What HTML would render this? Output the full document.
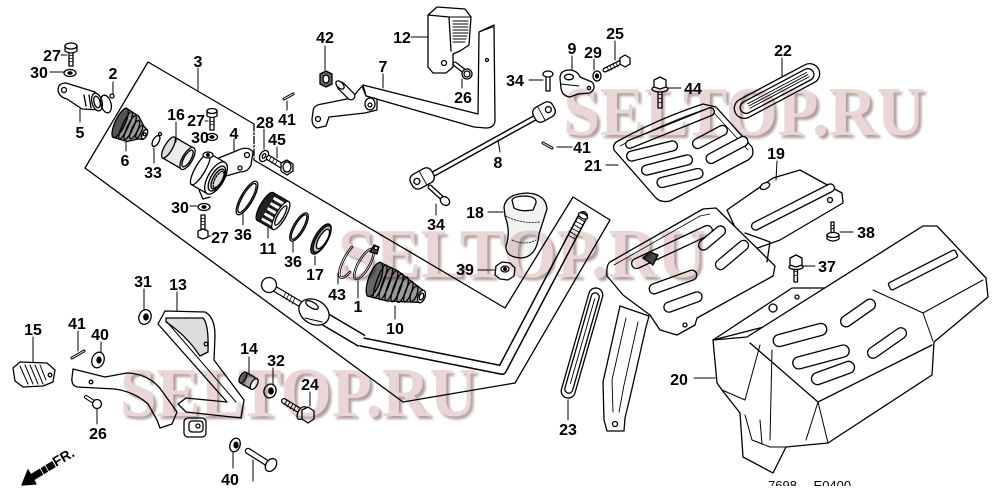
<!DOCTYPE html>
<html><head><meta charset="utf-8">
<style>
html,body{margin:0;padding:0;background:#fff;}
svg{display:block;}
.l{font-family:"Liberation Sans",Arial,sans-serif;font-weight:bold;font-size:16px;fill:#000;text-anchor:middle;stroke:none;}
.w{font-family:"Liberation Serif",serif;font-weight:bold;font-size:70px;}
</style></head><body>
<svg width="1000" height="500" viewBox="0 0 1000 500" xmlns="http://www.w3.org/2000/svg">
<defs><filter id="sh" x="-5%" y="-30%" width="110%" height="160%"><feGaussianBlur stdDeviation="1.3"/></filter></defs>
<rect width="1000" height="500" fill="#fff"/>

<g fill="#fff" stroke="#000" stroke-width="1.3" stroke-linejoin="round" stroke-linecap="round">

<!-- frame -->
<path fill="none" d="M254,124 L148,62 L85,168 L403,402 L515,383 L610,220 L573,197 L505,308 L254,160"/>
<line x1="254" y1="124" x2="254" y2="160" stroke-dasharray="7 2 1.5 2"/>
<line x1="198" y1="68" x2="198" y2="90" stroke-width="1"/>

<!-- 27 / 30 top-left -->
<rect x="69" y="51" width="4" height="15"/>
<line x1="69" y1="56" x2="73" y2="55" stroke-width="0.8"/><line x1="69" y1="59" x2="73" y2="58" stroke-width="0.8"/><line x1="69" y1="62" x2="73" y2="61" stroke-width="0.8"/>
<path d="M65,46 L65,51 Q71,55 77,51 L77,46"/><ellipse cx="71" cy="46" rx="6" ry="3"/>
<line x1="61" y1="55" x2="67" y2="55" stroke-width="1"/>
<ellipse cx="70" cy="73" rx="6" ry="3.5"/><ellipse cx="70" cy="73" rx="2" ry="1.2" fill="#000"/>
<line x1="50" y1="72" x2="63" y2="72" stroke-width="1"/>

<!-- 5 -->
<path d="M58,90 Q58,83 66,83 L95,92 L100,110 L82,109 L67,99 Q59,97 58,90 Z"/>
<circle cx="64" cy="90" r="2.5"/>
<line x1="84" y1="95" x2="86" y2="106"/><line x1="89" y1="95" x2="91" y2="108"/>
<ellipse cx="97" cy="102" rx="5" ry="9" transform="rotate(-15 97 102)"/>
<ellipse cx="97" cy="102" rx="3" ry="6" transform="rotate(-15 97 102)"/>
<line x1="80" y1="109" x2="80" y2="122" stroke-width="1"/>
<!-- 2 -->
<ellipse cx="106" cy="104" rx="5" ry="9" fill="none" transform="rotate(-15 106 104)"/>
<circle cx="112" cy="96" r="2"/>
<line x1="113" y1="82" x2="113" y2="94" stroke-width="1"/>

<!-- 6 boot -->
<g transform="rotate(25 131 128)">
<path d="M118,112 L133,114 L142,121 L147,123 L147,133 L142,135 L133,142 L118,144 Z" fill="#999"/>
<ellipse cx="119" cy="128" rx="5" ry="16" fill="#555"/>
<ellipse cx="125" cy="128" rx="3" ry="15" fill="none"/>
<ellipse cx="130" cy="128" rx="3" ry="13" fill="none"/>
<ellipse cx="135" cy="128" rx="3" ry="10" fill="none"/>
<ellipse cx="140" cy="128" rx="2" ry="7" fill="none"/>
<ellipse cx="146" cy="128" rx="2.5" ry="5"/>
<circle cx="146" cy="128" r="1.5"/>
</g>
<line x1="126" y1="142" x2="126" y2="151" stroke-width="1"/>

<!-- 33 -->
<ellipse cx="156" cy="141" rx="3" ry="6" fill="none" transform="rotate(30 156 141)"/>
<circle cx="160" cy="134" r="1.5"/>
<line x1="154" y1="148" x2="154" y2="163" stroke-width="1"/>

<!-- 16 -->
<g transform="rotate(30 178 153)">
<rect x="167" y="141" width="22" height="24" fill="#ececec"/>
<ellipse cx="167" cy="153" rx="4" ry="12" fill="#ddd"/>
<ellipse cx="189" cy="153" rx="5" ry="12.5"/>
<ellipse cx="189" cy="153" rx="3.5" ry="9.5" fill="#eee"/>
</g>
<line x1="176" y1="122" x2="176" y2="142" stroke-width="1"/>

<!-- 27 / 30 mid -->
<rect x="210" y="116" width="4" height="14"/>
<line x1="210" y1="122" x2="214" y2="121" stroke-width="0.8"/><line x1="210" y1="125" x2="214" y2="124" stroke-width="0.8"/>
<path d="M207,111 L207,116 Q212,119 217,116 L217,111"/><ellipse cx="212" cy="111" rx="5" ry="2.5"/>
<line x1="205" y1="121" x2="208" y2="121" stroke-width="1"/>
<ellipse cx="212" cy="137" rx="5.5" ry="3.5"/><ellipse cx="212" cy="137" rx="2" ry="1.2" fill="#000"/>

<!-- 4 housing -->
<path d="M214,160 L236,151 Q248,145 253,152 L251,165 Q248,172 240,172 L226,176 Z"/>
<circle cx="247" cy="155" r="2.5"/><circle cx="240" cy="168" r="2"/>
<g transform="rotate(30 216 178)">
<rect x="198" y="160" width="18" height="36"/>
<ellipse cx="198" cy="178" rx="5" ry="18"/>
<ellipse cx="216" cy="178" rx="8" ry="18"/>
<ellipse cx="217" cy="178" rx="6" ry="14" fill="#ddd"/>
<ellipse cx="218" cy="178" rx="4.5" ry="11" fill="none"/>
<ellipse cx="219" cy="178" rx="3.5" ry="9" fill="none" stroke-dasharray="2 1.5"/>
</g>
<ellipse cx="208" cy="155" rx="5" ry="3"/><circle cx="208" cy="155" r="1.3" fill="#000"/>
<path d="M199,190 L203,199 L210,197" fill="none"/>
<line x1="234" y1="139" x2="234" y2="151" stroke-width="1"/>

<!-- 28, 45, 41 -->
<ellipse cx="264" cy="156" rx="4" ry="6" transform="rotate(30 264 156)"/>
<ellipse cx="264" cy="156" rx="1.5" ry="2.5" transform="rotate(30 264 156)"/>
<line x1="264" y1="129" x2="264" y2="149" stroke-width="1"/>
<line x1="269" y1="158" x2="282" y2="166" stroke-width="6"/><line x1="269" y1="158" x2="282" y2="166" stroke-width="3.5" stroke="#fff"/>
<line x1="271" y1="157" x2="269" y2="161" stroke-width="0.8"/><line x1="274" y1="159" x2="272" y2="163" stroke-width="0.8"/><line x1="277" y1="161" x2="275" y2="165" stroke-width="0.8"/>
<path d="M281,163 L287,160 L293,164 L293,171 L287,175 L281,171 Z"/>
<ellipse cx="287" cy="167" rx="4" ry="5" fill="none"/>
<line x1="277" y1="147" x2="277" y2="158" stroke-width="1"/>
<line x1="284" y1="99" x2="293" y2="94" stroke-width="3"/><line x1="284" y1="99" x2="293" y2="94" stroke-width="1" stroke="#fff"/>
<line x1="287" y1="101" x2="287" y2="110" stroke-width="1"/>

<!-- 30 / 27 lower -->
<ellipse cx="204" cy="207" rx="6" ry="3.5"/><ellipse cx="204" cy="207" rx="2" ry="1.2" fill="#000"/>
<line x1="190" y1="206" x2="197" y2="206" stroke-width="1"/>
<rect x="201" y="215" width="4" height="16"/>
<line x1="201" y1="219" x2="205" y2="218" stroke-width="0.8"/><line x1="201" y1="222" x2="205" y2="221" stroke-width="0.8"/><line x1="201" y1="225" x2="205" y2="224" stroke-width="0.8"/>
<path d="M198,231 L203,229 L208,231 L208,237 L203,239 L198,237 Z"/>
<line x1="208" y1="236" x2="211" y2="236" stroke-width="1"/>

<!-- 36 a -->
<ellipse cx="247" cy="198" rx="6" ry="19" fill="none" transform="rotate(30 247 198)"/>
<ellipse cx="247" cy="198" rx="4.5" ry="16.5" fill="none" transform="rotate(30 247 198)"/>
<line x1="243" y1="214" x2="243" y2="225" stroke-width="1"/>

<!-- 11 -->
<g transform="rotate(30 273 211)">
<rect x="264" y="195" width="18" height="32" fill="#222"/>
<ellipse cx="264" cy="211" rx="5" ry="16" fill="#222"/>
<rect x="267" y="198" width="12" height="3" fill="#fff" stroke="none"/>
<rect x="267" y="204" width="12" height="3" fill="#fff" stroke="none"/>
<rect x="267" y="210" width="12" height="3" fill="#fff" stroke="none"/>
<rect x="267" y="216" width="12" height="3" fill="#fff" stroke="none"/>
<rect x="267" y="222" width="12" height="2.5" fill="#fff" stroke="none"/>
<ellipse cx="282" cy="211" rx="5" ry="16"/>
<ellipse cx="282" cy="211" rx="3" ry="11" fill="none"/>
</g>
<line x1="268" y1="227" x2="268" y2="238" stroke-width="1"/>

<!-- 36 b -->
<ellipse cx="299" cy="227" rx="5.5" ry="16" fill="none" transform="rotate(30 299 227)"/>
<ellipse cx="299" cy="227" rx="4" ry="14" fill="none" transform="rotate(30 299 227)"/>
<line x1="293" y1="242" x2="293" y2="252" stroke-width="1"/>

<!-- 17 -->
<ellipse cx="321" cy="239" rx="6.5" ry="17" fill="#444" transform="rotate(30 321 239)"/>
<ellipse cx="322" cy="239" rx="5.5" ry="15" fill="#bbb" transform="rotate(30 322 239)"/>
<ellipse cx="323" cy="239" rx="4" ry="11" fill="#fff" transform="rotate(30 323 239)"/>
<line x1="315" y1="256" x2="315" y2="265" stroke-width="1"/>

<!-- 43 -->
<path d="M352,247 A5,16 30 1 0 350,272" fill="none" stroke-width="2.6"/>
<path d="M352,247 A5,16 30 1 0 350,272" fill="none" stroke-width="0.9" stroke="#fff"/>
<line x1="338" y1="273" x2="338" y2="284" stroke-width="1"/>

<!-- 1 -->
<ellipse cx="364" cy="264" rx="5.5" ry="17" fill="none" stroke-width="2.4" transform="rotate(30 364 264)"/>
<ellipse cx="364" cy="264" rx="5.5" ry="17" fill="none" stroke-width="0.8" stroke="#fff" transform="rotate(30 364 264)"/>
<path d="M370,252 L374,245 L379,247 L377,254 Z" fill="#444"/>
<circle cx="376" cy="248" r="1.8" fill="#fff"/>
<line x1="358" y1="281" x2="358" y2="298" stroke-width="1"/>

<!-- 10 boot -->
<g transform="rotate(20 398 288)">
<path d="M372,270 L392,272 L411,278 L424,282 L424,294 L411,298 L392,304 L372,306 Z" fill="#9a9a9a"/>
<ellipse cx="373" cy="288" rx="6" ry="18" fill="#666"/>
<ellipse cx="379" cy="288" rx="3.5" ry="17.5" fill="none"/>
<ellipse cx="385" cy="288" rx="3.5" ry="17" fill="none"/>
<ellipse cx="391" cy="288" rx="3.5" ry="16" fill="none"/>
<ellipse cx="397" cy="288" rx="3.5" ry="15" fill="none"/>
<ellipse cx="403" cy="288" rx="3.5" ry="13.5" fill="none"/>
<ellipse cx="409" cy="288" rx="3" ry="11" fill="none"/>
<ellipse cx="415" cy="288" rx="3" ry="8" fill="none"/>
<ellipse cx="423" cy="288" rx="3.5" ry="6.5"/>
<ellipse cx="423" cy="288" rx="2" ry="3.5" fill="#fff"/>
</g>
<line x1="395" y1="306" x2="395" y2="319" stroke-width="1"/>

<!-- lever rod -->
<path fill="none" stroke-width="10" d="M330,322 L362,342 L502,370 L583,216"/>
<path fill="none" stroke-width="7" stroke="#fff" d="M330,322 L362,342 L502,370 L583,216"/>
<g stroke-width="0.9">
<line x1="577" y1="217" x2="585" y2="222"/><line x1="575" y1="221" x2="583" y2="225"/><line x1="573" y1="224" x2="581" y2="229"/><line x1="571" y1="228" x2="579" y2="232"/><line x1="569" y1="231" x2="577" y2="236"/><line x1="568" y1="235" x2="575" y2="239"/>
</g>
<ellipse cx="583" cy="216" rx="5" ry="2.5" transform="rotate(28 583 216)"/>
<line x1="318" y1="315" x2="362" y2="341" stroke-width="14" stroke-linecap="butt"/>
<line x1="318" y1="315" x2="362" y2="341" stroke-width="11" stroke="#fff" stroke-linecap="butt"/>
<line x1="275" y1="289" x2="302" y2="305" stroke-width="6.5"/>
<line x1="275" y1="289" x2="302" y2="305" stroke-width="4" stroke="#fff"/>
<g stroke-width="0.8"><line x1="286" y1="292" x2="283" y2="298"/><line x1="289" y1="294" x2="286" y2="300"/><line x1="292" y1="296" x2="289" y2="302"/><line x1="295" y1="298" x2="292" y2="304"/></g>
<circle cx="269" cy="285" r="7.5"/>
<ellipse cx="314" cy="312" rx="16" ry="12" transform="rotate(30 314 312)"/>
<ellipse cx="312" cy="305" rx="7" ry="3" transform="rotate(30 312 305)"/>
<line x1="305" y1="318" x2="322" y2="322" stroke-width="0.9"/>

<!-- 42 -->
<path d="M320,74 L326,71 L332,74 L332,84 L326,87 L320,84 Z" fill="#666"/>
<ellipse cx="326" cy="79" rx="3" ry="4" fill="#fff"/>
<line x1="325" y1="46" x2="325" y2="70" stroke-width="1"/>

<!-- 7 -->
<path d="M363,85 L478,114 L479,32 L494,25 L495,121 Q494,128 486,128 L474,127 L366,96 Z"/>
<line x1="479" y1="32" x2="493" y2="27" stroke-width="0.9"/>
<circle cx="487" cy="60" r="1.5"/>
<path d="M313,112 Q313,105 322,104 L352,98 L362,86 L366,96 L377,99 L377,110 L365,113 L329,117 L326,126 L317,128 Q312,126 312,119 Z"/>
<circle cx="318" cy="119" r="2.5"/>
<ellipse cx="370" cy="104" rx="5" ry="6"/><circle cx="370" cy="105" r="2"/>
<line x1="341" y1="86" x2="351" y2="96" stroke-width="9"/>
<line x1="341" y1="86" x2="351" y2="96" stroke-width="6.5" stroke="#fff"/>
<ellipse cx="340" cy="85" rx="5" ry="3" transform="rotate(45 340 85)"/>
<line x1="383" y1="74" x2="383" y2="88" stroke-width="1"/>

<!-- 12 -->
<path d="M428,15 L437,7 L465,9 L471,17 L469,45 L460,51 L453,54 L453,67 L446,73 L433,73 L428,67 Z"/>
<path d="M428,15 L449,17 L451,51" fill="none"/>
<line x1="449" y1="17" x2="470" y2="17" stroke-width="0.9"/>
<g stroke-width="1.1"><line x1="453" y1="21" x2="468" y2="21"/><line x1="453" y1="24" x2="468" y2="24"/><line x1="453" y1="27" x2="468" y2="27"/><line x1="453" y1="30" x2="468" y2="30"/><line x1="453" y1="33" x2="468" y2="33"/><line x1="453" y1="36" x2="467" y2="36"/><line x1="453" y1="39" x2="466" y2="39"/><line x1="453" y1="42" x2="465" y2="42"/></g>
<circle cx="444" cy="63" r="2.5"/>
<line x1="411" y1="37" x2="428" y2="37" stroke-width="1"/>

<!-- 26 top -->
<line x1="455" y1="64" x2="464" y2="71" stroke-width="5"/>
<line x1="455" y1="64" x2="464" y2="71" stroke-width="2.5" stroke="#fff"/>
<ellipse cx="467" cy="74" rx="5" ry="5"/><ellipse cx="467" cy="74" rx="3" ry="3" fill="none"/>
<line x1="462" y1="79" x2="462" y2="88" stroke-width="1"/>

<!-- 34 top -->
<rect x="546" y="75" width="4" height="16"/>
<ellipse cx="548" cy="74" rx="5" ry="3"/>
<line x1="529" y1="80" x2="543" y2="80" stroke-width="1"/>

<!-- 9 -->
<path d="M560,78 Q560,70 570,70 Q578,71 580,77 L592,82 Q597,88 590,93 L578,94 L570,97 Q562,96 561,88 Z"/>
<ellipse cx="569" cy="77" rx="4.5" ry="2.8"/>
<circle cx="589" cy="88" r="1.6"/>
<line x1="561" y1="84" x2="579" y2="86" stroke-width="0.9"/>
<line x1="572" y1="56" x2="572" y2="70" stroke-width="1"/>
<!-- 29 -->
<ellipse cx="597" cy="76" rx="4" ry="5"/><ellipse cx="597" cy="76" rx="1.5" ry="2" fill="#000"/>
<line x1="594" y1="59" x2="594" y2="70" stroke-width="1"/>
<!-- 25 -->
<line x1="605" y1="70" x2="621" y2="62" stroke-width="5"/>
<line x1="605" y1="70" x2="621" y2="62" stroke-width="2.5" stroke="#fff"/>
<g stroke-width="0.8"><line x1="607" y1="67" x2="609" y2="71"/><line x1="610" y1="66" x2="612" y2="70"/><line x1="613" y1="64" x2="615" y2="68"/><line x1="616" y1="63" x2="618" y2="67"/></g>
<path d="M620,58 L625,55 L630,58 L630,64 L625,67 L620,64 Z"/>
<line x1="615" y1="41" x2="615" y2="60" stroke-width="1"/>

<!-- 8 -->
<line x1="428" y1="177" x2="540" y2="115" stroke-width="6"/>
<line x1="428" y1="177" x2="540" y2="115" stroke-width="3.2" stroke="#fff"/>
<g transform="rotate(-29 423 178)">
<rect x="410" y="170" width="24" height="16" rx="6"/>
<line x1="423" y1="170" x2="423" y2="186" stroke-width="0.9"/>
<circle cx="416" cy="178" r="3"/>
</g>
<g transform="rotate(-29 544 112)">
<rect x="533" y="104" width="22" height="16" rx="6"/>
<line x1="541" y1="104" x2="541" y2="120" stroke-width="0.9"/>
<circle cx="549" cy="112" r="3"/>
</g>
<line x1="498" y1="140" x2="500" y2="152" stroke-width="1"/>
<!-- 34 lower -->
<line x1="430" y1="187" x2="442" y2="198" stroke-width="5"/>
<line x1="430" y1="187" x2="442" y2="198" stroke-width="2.5" stroke="#fff"/>
<ellipse cx="445" cy="201" rx="5" ry="4" transform="rotate(40 445 201)"/>
<line x1="436" y1="204" x2="436" y2="215" stroke-width="1"/>
<!-- 41 right -->
<line x1="543" y1="143" x2="552" y2="148" stroke-width="3"/>
<line x1="543" y1="143" x2="552" y2="148" stroke-width="1" stroke="#fff"/>
<line x1="557" y1="147" x2="572" y2="147" stroke-width="1"/>

<!-- 18 knob -->
<path d="M504,207 Q506,194 527,193 Q546,194 547,209 L539,234 Q537,257 521,258 Q505,257 506,246 Q511,232 505,216 Z" fill="#f2f2f2"/>
<path d="M512,200 Q514,196 526,196 Q537,197 536,203 L533,210 Q520,212 514,208 Z"/>
<path d="M506,216 Q520,224 540,222" fill="none" stroke-width="0.8" stroke-dasharray="1.5 1.5"/>
<path d="M512,240 Q525,246 536,240" fill="none" stroke-width="0.8" stroke-dasharray="1.5 1.5"/>
<line x1="488" y1="212" x2="503" y2="212" stroke-width="1"/>
<!-- 39 -->
<path d="M496,266 L502,262 L510,263 L515,268 L514,276 L508,280 L500,279 L495,275 Z"/>
<ellipse cx="505" cy="269" rx="4" ry="3"/><circle cx="505" cy="269" r="1.3" fill="#000"/>
<line x1="478" y1="270" x2="495" y2="270" stroke-width="1"/>

<!-- 44 -->
<rect x="658" y="90" width="4" height="18"/>
<g stroke-width="0.8"><line x1="658" y1="95" x2="662" y2="94"/><line x1="658" y1="99" x2="662" y2="98"/><line x1="658" y1="103" x2="662" y2="102"/></g>
<ellipse cx="660" cy="89" rx="8" ry="3"/>
<path d="M654,80 L660,77 L666,80 L666,87 L660,89 L654,87 Z"/>
<line x1="668" y1="88" x2="681" y2="88" stroke-width="1"/>

<!-- 22 -->
<g transform="rotate(-28 777 91)">
<rect x="730" y="81" width="94" height="20" rx="10"/>
<rect x="736" y="85" width="82" height="12" rx="6"/>
<line x1="745" y1="88.5" x2="812" y2="88.5" stroke-width="0.9"/>
<line x1="745" y1="91" x2="812" y2="91" stroke-width="0.9"/>
<line x1="745" y1="93.5" x2="812" y2="93.5" stroke-width="0.9"/>
</g>
<line x1="782" y1="58" x2="782" y2="76" stroke-width="1"/>

<!-- 21 -->
<path d="M614,150 Q612,143 620,140 Q660,118 703,104 L716,107 L752,147 Q755,156 748,160 L670,201 Q661,203 656,198 Z"/>
<path d="M620,146 Q660,125 703,110 L714,113 L748,150" fill="none" stroke-width="0.8"/>
<rect x="622.5" y="124" width="95" height="8" rx="4" transform="rotate(-22 670 128)"/>
<rect x="626" y="146" width="52" height="10" rx="5" transform="rotate(-14 652 151)"/>
<rect x="641" y="160" width="52" height="10" rx="5" transform="rotate(-14 667 165)"/>
<rect x="656.5" y="173" width="47" height="10" rx="5" transform="rotate(-14 680 178)"/>
<rect x="691" y="132" width="38" height="10" rx="5" transform="rotate(-28 710 137)"/>
<rect x="704" y="145" width="46" height="10" rx="5" transform="rotate(-28 727 150)"/>
<line x1="606" y1="165" x2="618" y2="165" stroke-width="1"/>

<!-- 19 -->
<path d="M727,210 L773,178 L800,170 L842,193 L843,203 L780,240 L752,250 L740,238 Z"/>
<rect x="747" y="203" width="92" height="8" rx="4" transform="rotate(-27 793 207)"/>
<ellipse cx="765" cy="186" rx="5" ry="3" transform="rotate(-27 765 186)"/>
<circle cx="830" cy="200" r="2.5"/>
<line x1="777" y1="161" x2="776" y2="180" stroke-width="1"/>

<!-- tray -->
<path d="M610,262 Q606,265 607,276 L623,295 L650,315 L660,330 L677,335 L695,325 L697,318 L773,276 L775,266 L716,208 L703,209 Z"/>
<path d="M614,265 L700,216 L710,214" fill="none" stroke-width="0.8"/>
<path d="M745,233 L770,242 L767,262" fill="none"/>
<rect x="628" y="242" width="88" height="10" rx="5" transform="rotate(-25 672 247)"/>
<path d="M643,258 L650,252 L658,255 L653,265 Z" fill="#444"/>
<rect x="696" y="233" width="32" height="10" rx="5" transform="rotate(-40 712 238)"/>
<rect x="712" y="250" width="40" height="10" rx="5" transform="rotate(-40 732 255)"/>
<rect x="648" y="277" width="50" height="10" rx="5" transform="rotate(-20 673 282)"/>
<rect x="663" y="297" width="40" height="10" rx="5" transform="rotate(-20 683 302)"/>
<circle cx="685" cy="325" r="2"/>
<!-- leg -->
<path d="M620,306 L649,316 L646,327 L631,393 L625,418 L624,431 L607,431 L604,420 L603,382 Z"/>
<path d="M626,318 L612,380 L613,412" fill="none" stroke-width="0.9"/>
<path d="M638,322 L624,385 L619,412" fill="none" stroke-width="0.9"/>
<circle cx="615" cy="424" r="2.5"/>

<!-- 23 -->
<g transform="rotate(-74 582 343)">
<rect x="525" y="336" width="114" height="14" rx="7"/>
<rect x="530" y="339" width="104" height="8" rx="4"/>
<line x1="540" y1="343" x2="628" y2="343" stroke-width="0.9"/>
</g>
<line x1="568" y1="400" x2="568" y2="420" stroke-width="1"/>

<!-- 38, 37 -->
<rect x="831" y="222" width="3" height="12"/>
<g stroke-width="0.8"><line x1="831" y1="226" x2="834" y2="225"/><line x1="831" y1="229" x2="834" y2="228"/></g>
<path d="M827,235 L827,239 Q833,243 839,239 L839,235"/><ellipse cx="833" cy="235" rx="6" ry="2.5"/>
<line x1="840" y1="232" x2="853" y2="232" stroke-width="1"/>
<rect x="794" y="267" width="3.5" height="15"/>
<g stroke-width="0.8"><line x1="794" y1="272" x2="797" y2="271"/><line x1="794" y1="276" x2="797" y2="275"/></g>
<ellipse cx="796" cy="267" rx="7" ry="2.5"/>
<path d="M790,258 L796,255 L802,258 L802,265 L796,267 L790,265 Z"/>
<line x1="803" y1="266" x2="815" y2="266" stroke-width="1"/>

<!-- 20 cover -->
<path d="M713,340 L792,288 L830,288 L830,310 Z"/>
<circle cx="773" cy="308" r="4"/><circle cx="797" cy="297" r="2"/>
<path d="M713,340 L747,337 L923,226 L937,226 L986,278 L988,297 L934,342 L932,375 L828,443 L786,447 L773,473 L743,457 L740,413 L722,390 L717,383 Z"/>
<path d="M750,343 L818,402 L932,345" fill="none"/>
<path d="M722,390 L745,400 L760,345" fill="none" stroke-width="1"/>
<path d="M745,415 L752,440 L770,447 L786,447" fill="none" stroke-width="1"/>
<path d="M760,420 L762,444 M772,350 L770,440" fill="none" stroke-width="1"/>
<path d="M818,402 L806,440 M818,402 L828,443" fill="none" stroke-width="1"/>
<path d="M873,290 L923,313 L933,341 M923,313 L983,280" fill="none" stroke-width="1"/>
<rect x="885.5" y="266" width="75" height="8" rx="2" transform="rotate(-27 923 270)"/>
<rect x="772.5" y="329" width="55" height="12" rx="6" transform="rotate(-15 800 335)"/>
<rect x="792" y="351" width="58" height="12" rx="6" transform="rotate(-15 821 357)"/>
<rect x="810.5" y="367" width="45" height="12" rx="6" transform="rotate(-20 833 373)"/>
<rect x="838" y="307.5" width="40" height="11" rx="5.5" transform="rotate(-35 858 313)"/>
<rect x="864.5" y="337.5" width="45" height="11" rx="5.5" transform="rotate(-35 887 343)"/>
<line x1="694" y1="378" x2="715" y2="378" stroke-width="1"/>

<!-- 13 bracket -->
<path d="M73,369 L105,377 L127,373 Q150,374 162,391 L177,412 L172,424 L160,428 L157,420 L148,404 Q135,392 115,389 L77,387 Q71,385 72,378 Z"/>
<circle cx="91" cy="382" r="1.8"/>
<path d="M158,324 L165,311 L205,312 Q215,317 215,336 L214,360 L244,400 L241,418 L186,412 L178,404 L186,398 L227,402 Z"/>
<path d="M166,318 L203,318 Q209,324 208,352 L200,356 Q186,335 166,322 Z" fill="#ddd"/>
<path d="M167,322 L236,402" fill="none" stroke-width="1"/>
<circle cx="206" cy="344" r="1.8"/>
<rect x="184" y="418" width="22" height="19" rx="4"/>
<rect x="189" y="421" width="14" height="11" rx="3"/>
<circle cx="198" cy="426" r="2"/>
<line x1="177" y1="292" x2="177" y2="311" stroke-width="1"/>

<!-- 31, 15, 41, 40, 26 -->
<ellipse cx="145" cy="317" rx="6" ry="7.5" transform="rotate(20 145 317)"/>
<ellipse cx="146" cy="317" rx="2.2" ry="3" fill="#000"/>
<line x1="144" y1="289" x2="144" y2="309" stroke-width="1"/>
<path d="M13,368 L20,362 L47,363 L55,370 L53,382 L43,386 L23,387 L15,381 Z"/>
<g stroke-width="1"><line x1="20" y1="366" x2="28" y2="384"/><line x1="25" y1="365" x2="33" y2="384"/><line x1="30" y1="365" x2="38" y2="384"/><line x1="35" y1="365" x2="43" y2="384"/><line x1="40" y1="365" x2="46" y2="380"/></g>
<circle cx="50" cy="375" r="1.8"/>
<line x1="33" y1="337" x2="33" y2="362" stroke-width="1"/>
<line x1="72" y1="358" x2="84" y2="351" stroke-width="3"/><line x1="72" y1="358" x2="84" y2="351" stroke-width="1" stroke="#fff"/>
<line x1="78" y1="331" x2="78" y2="351" stroke-width="1"/>
<ellipse cx="98" cy="360" rx="6" ry="8" transform="rotate(20 98 360)"/>
<ellipse cx="99" cy="360" rx="2" ry="3" fill="#000"/>
<line x1="101" y1="342" x2="101" y2="352" stroke-width="1"/>
<line x1="86" y1="397" x2="94" y2="402" stroke-width="4"/><line x1="86" y1="397" x2="94" y2="402" stroke-width="2" stroke="#fff"/>
<ellipse cx="97" cy="404" rx="4.5" ry="4.5"/>
<line x1="97" y1="409" x2="97" y2="424" stroke-width="1"/>

<!-- 14, 32, 24 -->
<g transform="rotate(30 249 381)">
<rect x="242" y="375" width="13" height="12" fill="#aaa"/>
<ellipse cx="242" cy="381" rx="3" ry="6" fill="#777"/>
<ellipse cx="255" cy="381" rx="3" ry="6"/>
</g>
<line x1="249" y1="357" x2="249" y2="374" stroke-width="1"/>
<ellipse cx="270" cy="391" rx="6" ry="7" transform="rotate(20 270 391)"/>
<ellipse cx="271" cy="391" rx="2.2" ry="3" fill="#000"/>
<line x1="273" y1="368" x2="273" y2="384" stroke-width="1"/>
<line x1="284" y1="401" x2="302" y2="412" stroke-width="6"/>
<line x1="284" y1="401" x2="302" y2="412" stroke-width="3.5" stroke="#fff"/>
<g stroke-width="0.8"><line x1="287" y1="400" x2="284" y2="405"/><line x1="290" y1="402" x2="287" y2="407"/><line x1="293" y1="404" x2="290" y2="409"/><line x1="296" y1="406" x2="293" y2="411"/></g>
<ellipse cx="302" cy="413" rx="4" ry="7" transform="rotate(30 302 413)"/>
<path d="M302,410 L308,407 L314,411 L314,419 L308,423 L302,419 Z"/>
<line x1="310" y1="392" x2="310" y2="406" stroke-width="1"/>

<!-- 40 lower, 37 pin -->
<ellipse cx="235" cy="445" rx="5" ry="7" transform="rotate(20 235 445)"/>
<ellipse cx="236" cy="445" rx="2" ry="2.8" fill="#000"/>
<line x1="233" y1="453" x2="233" y2="468" stroke-width="1"/>
<line x1="248" y1="451" x2="267" y2="463" stroke-width="6.5"/>
<line x1="248" y1="451" x2="267" y2="463" stroke-width="4" stroke="#fff"/>
<ellipse cx="271" cy="465" rx="5" ry="7" transform="rotate(35 271 465)"/>
<line x1="253" y1="460" x2="253" y2="481" stroke-width="1"/>

<!-- FR arrow -->
<polygon points="22,485 28,470 36,484" fill="#000"/>
<line x1="31" y1="478" x2="54" y2="464" stroke-width="7" stroke-linecap="butt"/>
<g stroke="#fff" stroke-width="0.8"><line x1="40" y1="468" x2="45" y2="477"/><line x1="45" y1="465" x2="50" y2="474"/></g>
</g>

<text x="0" y="0" transform="translate(56,467) rotate(-30)" style="font-family:'Liberation Sans',Arial,sans-serif;font-weight:bold;font-size:14px;fill:#000">FR.</text>

<!-- labels -->
<g class="l">
<text x="52" y="61">27</text>
<text x="39" y="78">30</text>
<text x="113" y="79">2</text>
<text x="80" y="138">5</text>
<text x="198" y="67">3</text>
<text x="176" y="120">16</text>
<text x="196" y="126">27</text>
<text x="200" y="143">30</text>
<text x="234" y="139">4</text>
<text x="125" y="166">6</text>
<text x="153" y="178">33</text>
<text x="265" y="128">28</text>
<text x="277" y="145">45</text>
<text x="287" y="125">41</text>
<text x="325" y="43">42</text>
<text x="180" y="213">30</text>
<text x="220" y="243">27</text>
<text x="243" y="240">36</text>
<text x="268" y="254">11</text>
<text x="293" y="267">36</text>
<text x="315" y="280">17</text>
<text x="337" y="300">43</text>
<text x="358" y="312">1</text>
<text x="395" y="334">10</text>
<text x="402" y="43">12</text>
<text x="383" y="72">7</text>
<text x="463" y="103">26</text>
<text x="515" y="86">34</text>
<text x="572" y="54">9</text>
<text x="593" y="58">29</text>
<text x="615" y="39">25</text>
<text x="498" y="168">8</text>
<text x="582" y="153">41</text>
<text x="593" y="171">21</text>
<text x="436" y="230">34</text>
<text x="475" y="218">18</text>
<text x="465" y="275">39</text>
<text x="693" y="94">44</text>
<text x="783" y="56">22</text>
<text x="776" y="159">19</text>
<text x="866" y="238">38</text>
<text x="827" y="272">37</text>
<text x="679" y="385">20</text>
<text x="568" y="435">23</text>
<text x="143" y="287">31</text>
<text x="178" y="290">13</text>
<text x="33" y="335">15</text>
<text x="77" y="329">41</text>
<text x="100" y="340">40</text>
<text x="249" y="354">14</text>
<text x="276" y="366">32</text>
<text x="310" y="390">24</text>
<text x="98" y="439">26</text>
<text x="230" y="485">40</text>
<text x="256" y="498">37</text>
</g>
<text x="768" y="490" style="font-family:'Liberation Sans',Arial,sans-serif;font-size:13px;fill:#000">7698— E0400</text>

<!-- watermarks overlay -->
<g class="w" style="mix-blend-mode:multiply">
<text x="566" y="138" textLength="362" lengthAdjust="spacingAndGlyphs" fill="#b09e9e" filter="url(#sh)">SELTOP.RU</text>
<text x="563" y="135" textLength="362" lengthAdjust="spacingAndGlyphs" fill="#ead6d6">SELTOP.RU</text>
<text x="341" y="280" textLength="368" lengthAdjust="spacingAndGlyphs" fill="#b09e9e" filter="url(#sh)">SELTOP.RU</text>
<text x="338" y="277" textLength="368" lengthAdjust="spacingAndGlyphs" fill="#ead6d6">SELTOP.RU</text>
<text x="123" y="419" textLength="357" lengthAdjust="spacingAndGlyphs" fill="#b09e9e" filter="url(#sh)">SELTOP.RU</text>
<text x="120" y="416" textLength="357" lengthAdjust="spacingAndGlyphs" fill="#ead6d6">SELTOP.RU</text>
</g>

<rect x="0" y="486" width="1000" height="14" fill="#fff"/>
</svg>
</body></html>
